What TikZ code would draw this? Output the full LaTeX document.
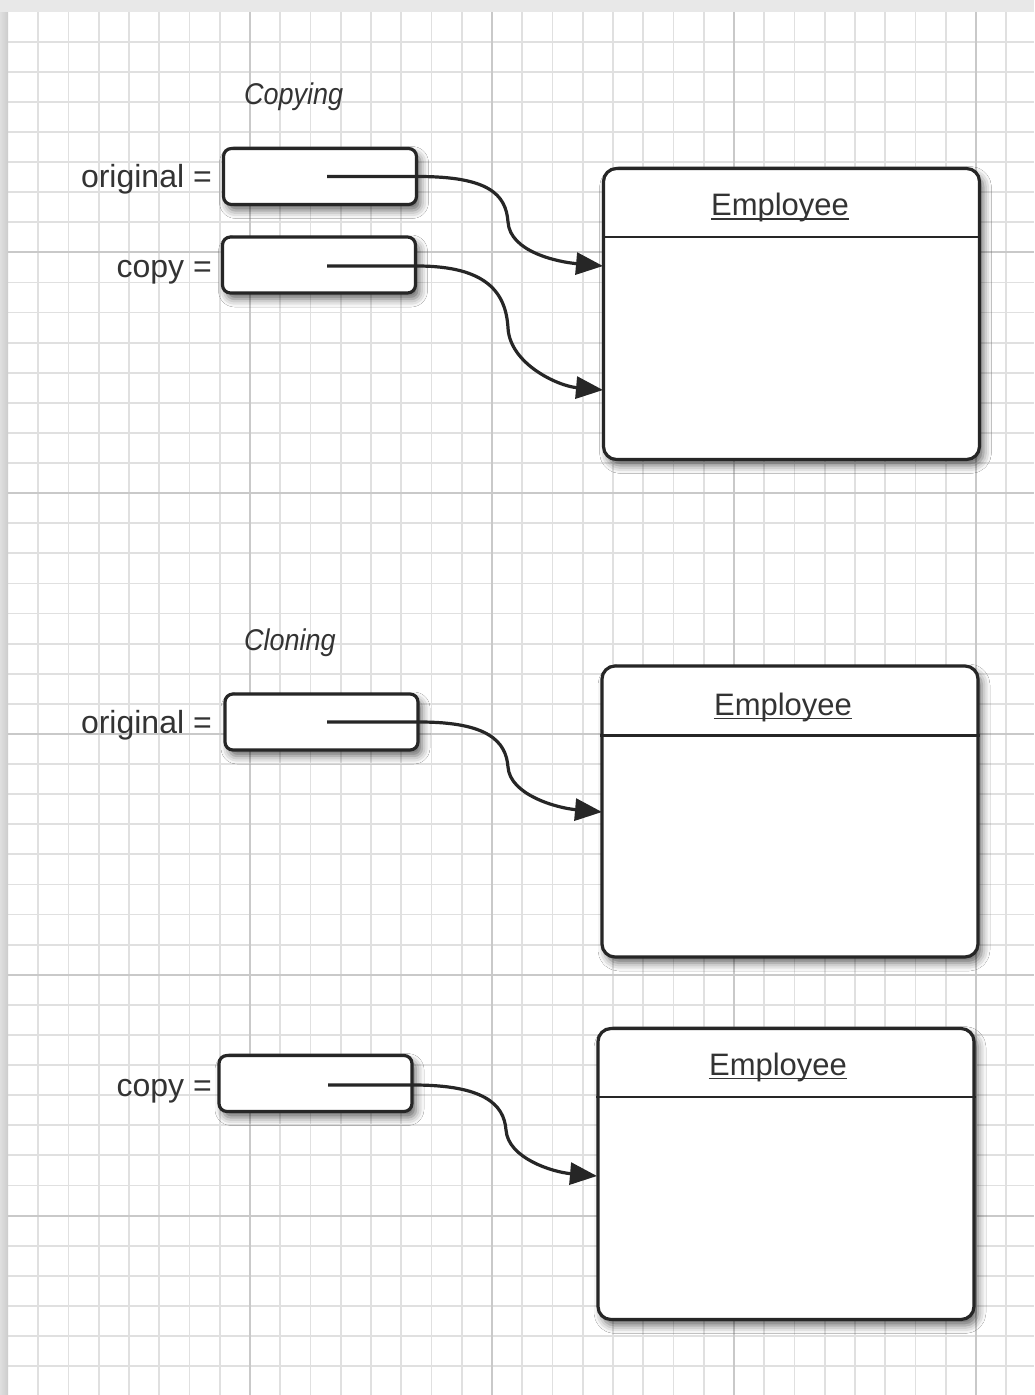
\documentclass[tikz,border=0pt]{standalone}
\usepackage{fontspec}
\setmainfont{Liberation Sans}
\newfontfamily\itlabel{Liberation Sans}[FakeStretch=0.9]
\usetikzlibrary{arrows.meta,shadows.blur}
\definecolor{ink}{HTML}{262626}
\definecolor{txt}{HTML}{333333}
\definecolor{gridminor}{HTML}{E0E0E0}
\definecolor{gridmajor}{HTML}{C9C9C9}
\begin{document}
\begin{tikzpicture}[x=1pt,y=-1pt,
  boxshadow/.style={blur shadow={shadow xshift=4pt, shadow yshift=-6pt, shadow blur radius=8pt, shadow opacity=60}},
  ptrbox/.style={draw=ink, line width=3.2pt, fill=white, rounded corners=8pt,
    minimum width=193pt, minimum height=56pt, inner sep=0pt, boxshadow},
  objbox/.style={draw=ink, line width=3.2pt, fill=white, rounded corners=13pt,
    minimum width=376pt, minimum height=291pt, inner sep=0pt, boxshadow},
  lbl/.style={font=\fontsize{32}{38}\selectfont, text=txt, inner sep=0pt, anchor=base east},
  sectitle/.style={font=\itlabel\itshape\fontsize{30}{36}\selectfont, text=txt, inner sep=0pt, anchor=base west},
  clsname/.style={font=\fontsize{31}{36}\selectfont, text=txt, inner sep=0pt, anchor=base},
  ptr/.style={draw=ink, line width=3.2pt, -{Triangle[length=27pt,width=22pt]}},
  gridmin/.style={draw=gridminor, line width=1.8pt},
  gridmaj/.style={draw=gridmajor, line width=2pt},
]
\useasboundingbox (0,0) rectangle (1034,1395);
\fill[white] (0,0) rectangle (1034,1395);
% grid
\foreach \k in {1,...,33}{
  \pgfmathtruncatemacro\m{mod(\k,8)}
  \ifnum\m=0\relax\else
    \draw[gridmin] ({8+30.25*\k},12) -- ({8+30.25*\k},1395);
  \fi
}
\foreach \k in {1,...,45}{
  \pgfmathtruncatemacro\m{mod(\k,8)}
  \ifnum\m=0\relax\else
    \draw[gridmin] (8,{11.5+30.1*\k}) -- (1034,{11.5+30.1*\k});
  \fi
}
\foreach \k in {8,16,24,32}{
  \draw[gridmaj] ({8+30.25*\k},12) -- ({8+30.25*\k},1395);
}
\foreach \k in {8,16,24,32,40}{
  \draw[gridmaj] (8,{11.5+30.1*\k}) -- (1034,{11.5+30.1*\k});
}
% page edges
\fill[gray!18] (0,0) rectangle (1034,12);
\shade[left color=gray!25, right color=gray!40] (0,12) rectangle (8,1395);

% Copying
\node[sectitle] (tcopying) at (244,104) {Copying};
\node[ptrbox] (o1) at (320,176.5) {};
\node[ptrbox] (c1) at (319,265) {};
\node[lbl] (lo1) at (212,187) {original =};
\node[lbl] (lc1) at (212,277) {copy =};
\node[objbox] (E1) at (791.5,314) {};
\draw[ink, line width=2.6pt] ([yshift=-70pt]E1.north west) -- ([yshift=-70pt]E1.north east);
\node[clsname] (n1) at (780,215.5) {Employee};
\draw[txt, line width=1.5pt] ([yshift=-3.5pt]n1.base west) -- ([yshift=-3.5pt]n1.base east);

% Cloning
\node[sectitle] (tcloning) at (244,650) {Cloning};
\node[ptrbox] (o2) at (321.5,722) {};
\node[lbl] (lo2) at (212,733) {original =};
\node[objbox] (E2) at (790,811.5) {};
\draw[ink, line width=2.6pt] ([yshift=-71pt]E2.north west) -- ([yshift=-71pt]E2.north east);
\node[clsname] (n2) at (783,715) {Employee};
\draw[txt, line width=1.5pt] ([yshift=-3.5pt]n2.base west) -- ([yshift=-3.5pt]n2.base east);

\node[ptrbox] (c2) at (315.5,1083.5) {};
\node[lbl] (lc2) at (212,1096) {copy =};
\node[objbox] (E3) at (786,1174) {};
\draw[ink, line width=2.6pt] ([yshift=-70pt]E3.north west) -- ([yshift=-70pt]E3.north east);
\node[clsname] (n3) at (778,1075) {Employee};
\draw[txt, line width=1.5pt] ([yshift=-3.5pt]n3.base west) -- ([yshift=-3.5pt]n3.base east);

% pointers
\coordinate (s1) at (327,176.5);
\coordinate (t1) at (603,266);
\coordinate (s2) at (327,266);
\coordinate (t2) at (603,390);
\coordinate (s3) at (327,722);
\coordinate (t3) at (602,812);
\coordinate (s4) at (328,1085);
\coordinate (t4) at (597,1176);

\draw[ptr] (s1) -- (o1.east |- s1) .. controls +(70,0) and +(-2,-28) .. (508,222)
  .. controls +(2,30) and +(-45,-4) .. (t1);
\draw[ptr] (s2) -- (c1.east |- s2) .. controls +(70,0) and +(-2,-35) .. (508,328)
  .. controls +(2,36) and +(-45,-4) .. (t2);
\draw[ptr] (s3) -- (o2.east |- s3) .. controls +(68,0) and +(-2,-26) .. (508,767)
  .. controls +(2,28) and +(-45,-4) .. (t3);
\draw[ptr] (s4) -- (c2.east |- s4) .. controls +(70,0) and +(-2,-26) .. (506,1130)
  .. controls +(2,28) and +(-45,-4) .. (t4);
\end{tikzpicture}
\end{document}
